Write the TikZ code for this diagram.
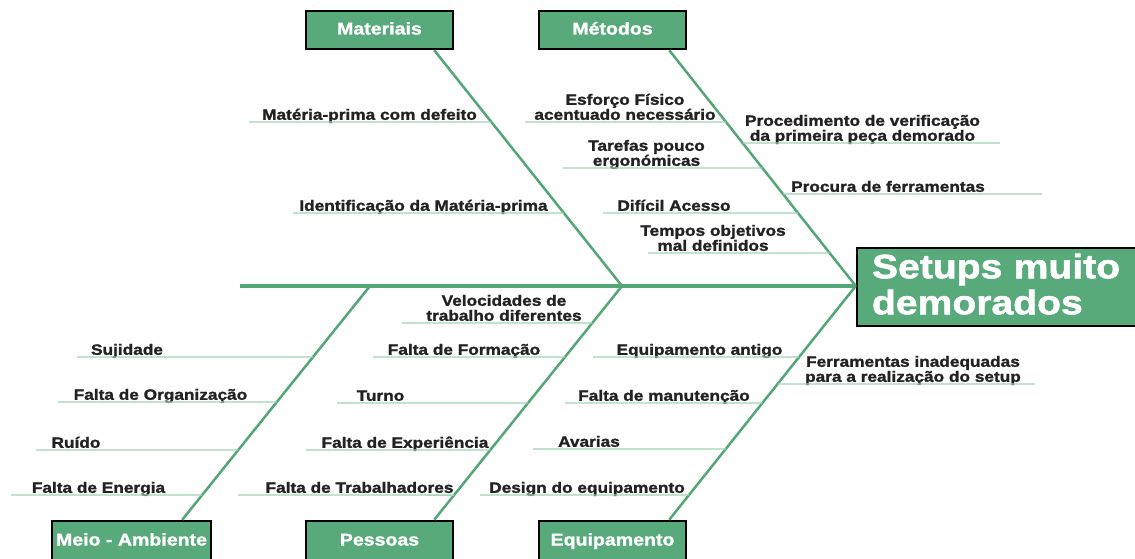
\documentclass[tikz,border=0pt]{standalone}
\usepackage{fontspec}
\setmainfont{Liberation Sans}[FakeStretch=1.15, BoldFeatures={FakeBold=1.5}]
\usepackage{tikz}
\usetikzlibrary{calc}

\definecolor{boxgreen}{RGB}{88,170,122}
\definecolor{bonegreen}{RGB}{84,166,117}
\definecolor{twiggreen}{RGB}{160,210,180}
\definecolor{txtgray}{RGB}{34,34,34}

\tikzset{
  greenbox/.style={draw=black, line width=2.5pt, fill=boxgreen, text=white, inner sep=0pt},
  catbox/.style={greenbox, font=\fontsize{17}{19}\selectfont\bfseries,
    text height=13pt, text depth=4pt, minimum width=147pt, minimum height=38pt},
  headbox/.style={greenbox, font=\fontsize{34}{36}\selectfont\bfseries,
    minimum width=280pt, minimum height=78pt, text width=250pt, align=left},
  cause/.style={font=\fontsize{15}{15}\selectfont\bfseries, text=txtgray,
    align=center, inner sep=0pt, text depth=0pt, anchor=south},
  bone/.style={bonegreen, line width=2.5pt},
  spine/.style={bonegreen, line width=4.5pt},
  twig/.style={twiggreen, line width=1.4pt}
}

\begin{document}
\begin{tikzpicture}[x=1pt,y=-1pt]
\useasboundingbox (0,0) rectangle (1135,559);

% efeito
\node[headbox, text depth=42pt] (eff) at (997,287) {Setups muito\\demorados};

% categorias
\node[catbox] (mat) at (379.5,30) {Materiais};
\node[catbox] (met) at (612.5,30) {Métodos};
\node[catbox, minimum width=159pt, minimum height=40pt] (amb) at (131.5,541) {Meio - Ambiente};
\node[catbox, minimum height=40pt] (pes) at (379.5,541) {Pessoas};
\node[catbox, minimum height=40pt] (equ) at (612.5,541) {Equipamento};

% espinha
\coordinate (tail) at (240,286);
\coordinate (j0) at (370,286);
\coordinate (j1) at (622,286);
\coordinate (j2) at (tail -| eff.west);
\draw[spine] (tail) -- (j2);

\coordinate (matT) at ($(mat.south east)+(-20,0)$);
\coordinate (metT) at ($(met.south east)+(-18,0)$);
\coordinate (ambB) at ($(amb.north east)+(-30,0)$);
\coordinate (pesB) at ($(pes.north east)+(-20,0)$);
\coordinate (equB) at ($(equ.north east)+(-18,0)$);
\draw[bone] (matT) -- (j1);
\draw[bone] (metT) -- (j2);
\draw[bone] (j0) -- (ambB);
\draw[bone] (j1) -- (pesB);
\draw[bone] (j2) -- (equB);

% causas: texto / x do texto / x da ponta livre / y
\foreach \tx/\xt/\xe/\yy [count=\i] in {
  {Matéria-prima com defeito}/369.5/249/122,
  {Identificação da Matéria-prima}/423.5/293/213}{
  \node[cause] (mat\i) at (\xt,\yy-2) {\tx};
  \draw[twig] (\xe,\yy) coordinate (endmat\i) -- (intersection of matT--j1 and \xe,\yy--\xt,\yy);
}

\foreach \tx/\xt/\xe/\yy [count=\i] in {
  {Esforço Físico\\acentuado necessário}/625/525/122,
  {Tarefas pouco\\ergonómicas}/646.5/563/168,
  {Difícil Acesso}/674/603/213,
  {Tempos objetivos\\mal definidos}/713/648/253,
  {Procedimento de verificação\\da primeira peça demorado}/862.5/1000/143,
  {Procura de ferramentas}/888/1042/194}{
  \node[cause] (met\i) at (\xt,\yy-2) {\tx};
  \draw[twig] (\xe,\yy) coordinate (endmet\i) -- (intersection of metT--j2 and \xe,\yy--\xt,\yy);
}

\foreach \tx/\xt/\xe/\yy [count=\i] in {
  {Sujidade}/127/77/357,
  {Falta de Organização}/160.5/58/402,
  {Ruído}/76/36/450,
  {Falta de Energia}/98.5/11/495}{
  \node[cause] (amb\i) at (\xt,\yy-2) {\tx};
  \draw[twig] (\xe,\yy) coordinate (endamb\i) -- (intersection of j0--ambB and \xe,\yy--\xt,\yy);
}

\foreach \tx/\xt/\xe/\yy [count=\i] in {
  {Velocidades de\\trabalho diferentes}/504/402/323,
  {Falta de Formação}/464/373/357,
  {Turno}/380.5/337/403,
  {Falta de Experiência}/405/306/450,
  {Falta de Trabalhadores}/359.5/238/495}{
  \node[cause] (pes\i) at (\xt,\yy-2) {\tx};
  \draw[twig] (\xe,\yy) coordinate (endpes\i) -- (intersection of j1--pesB and \xe,\yy--\xt,\yy);
}

\foreach \tx/\xt/\xe/\yy [count=\i] in {
  {Equipamento antigo}/699.5/593/357,
  {Falta de manutenção}/664/565/403,
  {Avarias}/589/533/449,
  {Design do equipamento}/587/480/495,
  {Ferramentas inadequadas\\para a realização do setup}/913/1035/384}{
  \node[cause] (equ\i) at (\xt,\yy-2) {\tx};
  \draw[twig] (\xe,\yy) coordinate (endequ\i) -- (intersection of j2--equB and \xe,\yy--\xt,\yy);
}
\end{tikzpicture}
\end{document}
